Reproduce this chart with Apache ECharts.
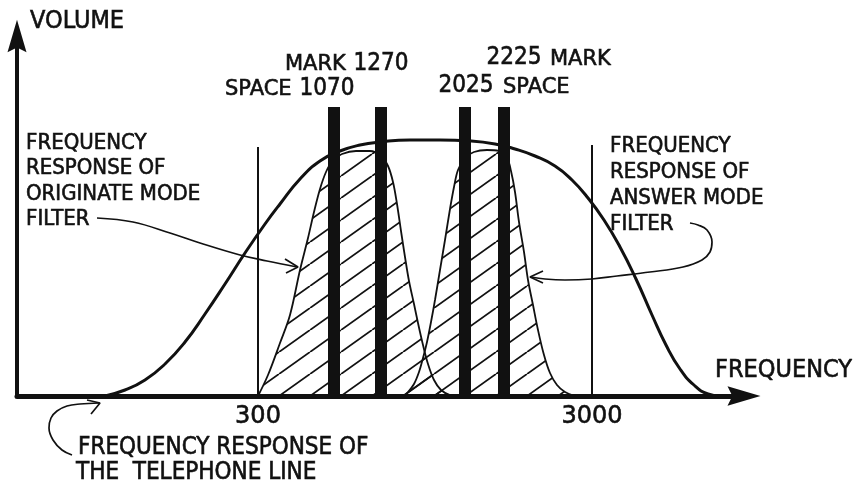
<!DOCTYPE html>
<html><head><meta charset="utf-8">
<script src="https://cdn.jsdelivr.net/npm/echarts@6/dist/echarts.min.js"></script>
<style>html,body{margin:0;padding:0;background:#fff}#c{width:861px;height:481px}</style>
</head><body><div id="c"></div>
<script>
// Schematic units: x = position along the frequency axis, y = volume.
const telephoneLine = [[88,0],[108,6],[128,16],[148,32],[168,54],[188,82],[208,112],[228,143],[248,172],[263,192],[283,217],[303,235],[323,245],[343,251],[363,254],[393,256],[423,256],[453,255],[478,252],[498,247],[518,240],[538,230],[555,216],[571,198],[587,176],[603,149],[619,117],[635,81],[649,51],[663,27],[677,11],[691,2],[703,0]];
const originateFilter = [[241,0],[251,21],[263,53],[273,81],[283,126],[291,158],[297,184],[303,207],[309,224],[316,236],[325,242],[339,245],[353,245],[364,240],[371,230],[376,214],[380,192],[384,165],[388,139],[392,115],[397,92],[401,73],[406,51],[411,32],[417,16],[424,6],[433,1],[443,0]];
const answerFilter = [[386,0],[391,4],[397,12],[402,24],[406,38],[410,54],[414,74],[418,96],[423,126],[428,156],[433,187],[437,209],[441,226],[448,238],[457,244],[470,246],[482,245],[490,238],[494,225],[498,204],[502,174],[507,144],[511,116],[516,91],[521,66],[527,41],[533,23],[540,11],[548,4],[558,0]];
const carrierTones = ['1070','1270','2025','2225'];
const carrierPos = [317,364,448,487];
const carrierHeight = 289;
const bandEdgeLabels = ['300','3000'];
const bandEdgePos = [241,575];
const bandEdgeHeight = [249,251];
const originateArrow = [[80,178],[116,174],[153,163],[183,153],[223,141],[250,135],[280,129]];
const originateHead = [[268,137],[281,129],[269,123]];
const answerArrow = [[673,173],[681,171],[690,166],[695,154],[693,144],[685,136],[666,129],[633,124],[600,120],[575,117],[548,116],[528,117],[514,119]];
const answerHead = [[526,125],[513,119],[526,113]];
const lineArrow = [[55,-59],[45,-54],[36,-44],[32,-32],[34,-22],[40,-15],[50,-10],[63,-8],[82,-7]];
const lineHead = [[70,-4],[83,-7],[74,-18]];

const INK = '#111';
const COND = '"DejaVu Sans Condensed","DejaVu Sans",sans-serif';
const NORM = '"DejaVu Sans",sans-serif';

function hatch(){
  const w = 31, h = 22;
  const c = document.createElement('canvas'); c.width = w; c.height = h;
  const g = c.getContext('2d');
  g.strokeStyle = INK; g.lineWidth = 1.8;
  for (const dx of [-w, 0, w]) { g.beginPath(); g.moveTo(dx, h); g.lineTo(dx + w, 0); g.stroke(); }
  return c;
}
const pattern = {image: hatch(), repeat: 'repeat'};

function txt(text, x, y, size, fam, align){
  return {type:'text', x:x, y:y, z:100, style:{text:text, fill:INK, stroke:INK, lineWidth:0.6, fontSize:size, fontFamily:fam,
    align:align||'left', textAlign:align||'left', verticalAlign:'middle', textVerticalAlign:'middle'}};
}

const chart = echarts.init(document.getElementById('c'), null, {renderer:'canvas'});
const series = [];
series.push({type:'line', data:originateFilter, smooth:0.35, showSymbol:false, z:2,
  lineStyle:{color:INK, width:1.8}, areaStyle:{color:pattern, opacity:1}});
series.push({type:'line', data:answerFilter, smooth:0.35, showSymbol:false, z:2,
  lineStyle:{color:INK, width:1.8}, areaStyle:{color:pattern, opacity:1}});
series.push({type:'line', data:telephoneLine, smooth:0.5, showSymbol:false, z:3,
  lineStyle:{color:INK, width:3}});
bandEdgePos.forEach((x,i)=>series.push({type:'line', data:[[x,0],[x,bandEdgeHeight[i]]], showSymbol:false, z:3,
  lineStyle:{color:INK, width:2}}));
series.push({type:'bar', data:carrierPos.map(x=>[x,carrierHeight]), barWidth:12, z:4,
  itemStyle:{color:INK}});
[[originateArrow,true],[originateHead,false],[answerArrow,true],[answerHead,false],[lineArrow,true],[lineHead,false]].forEach(([d,s])=>
  series.push({type:'line', data:d, smooth:s?0.4:false, showSymbol:false, clip:false, z:5, lineStyle:{color:INK, width:1.7}}));

const arrowPath = 'path://M10,0L20,34L10,29L0,34Z';
chart.setOption({
  animation:false,
  backgroundColor:'#fff',
  grid:{left:17, right:117, top:36, bottom:85},
  xAxis:{type:'value', min:0, max:727, splitLine:{show:false}, axisTick:{show:false},
    axisLine:{show:true, onZero:true, symbol:['none',arrowPath], symbolSize:[20,33], lineStyle:{color:INK, width:5}},
    axisLabel:{show:true, customValues:bandEdgePos, margin:9, color:INK, fontSize:24, fontFamily:NORM,
      textBorderColor:INK, textBorderWidth:0.6,
      formatter:v=>bandEdgeLabels[bandEdgePos.indexOf(v)]||''}},
  yAxis:{type:'value', min:0, max:360, splitLine:{show:false}, axisTick:{show:false}, axisLabel:{show:false},
    axisLine:{show:true, symbol:['none',arrowPath], symbolSize:[19,33], lineStyle:{color:INK, width:4}}},
  series:series,
  graphic:[
    txt('VOLUME', 30, 21, 25, COND),
    txt('FREQUENCY', 715, 370, 25, COND),
    txt('FREQUENCY', 26, 143, 22, COND),
    txt('RESPONSE OF', 26, 168, 22, COND),
    txt('ORIGINATE MODE', 26, 194, 22, COND),
    txt('FILTER', 26, 219, 22, COND),
    txt('FREQUENCY', 610, 146, 22, COND),
    txt('RESPONSE OF', 610, 172, 22, COND),
    txt('ANSWER MODE', 610, 198, 22, COND),
    txt('FILTER', 610, 224, 22, COND),
    txt('FREQUENCY RESPONSE OF', 78, 448, 24, COND),
    txt('THE  TELEPHONE LINE', 76, 473, 24, COND),
    txt('MARK', 285, 65, 21, NORM),
    txt(carrierTones[1], 381, 64, 24, COND, 'center'),
    txt('SPACE', 225, 90, 21, NORM),
    txt(carrierTones[0], 327, 89, 24, COND, 'center'),
    txt(carrierTones[3], 514, 58, 24, COND, 'center'),
    txt('MARK', 550, 60, 21, NORM),
    txt(carrierTones[2], 466, 86, 24, COND, 'center'),
    txt('SPACE', 503, 88, 21, NORM)
  ]
});
</script></body></html>
